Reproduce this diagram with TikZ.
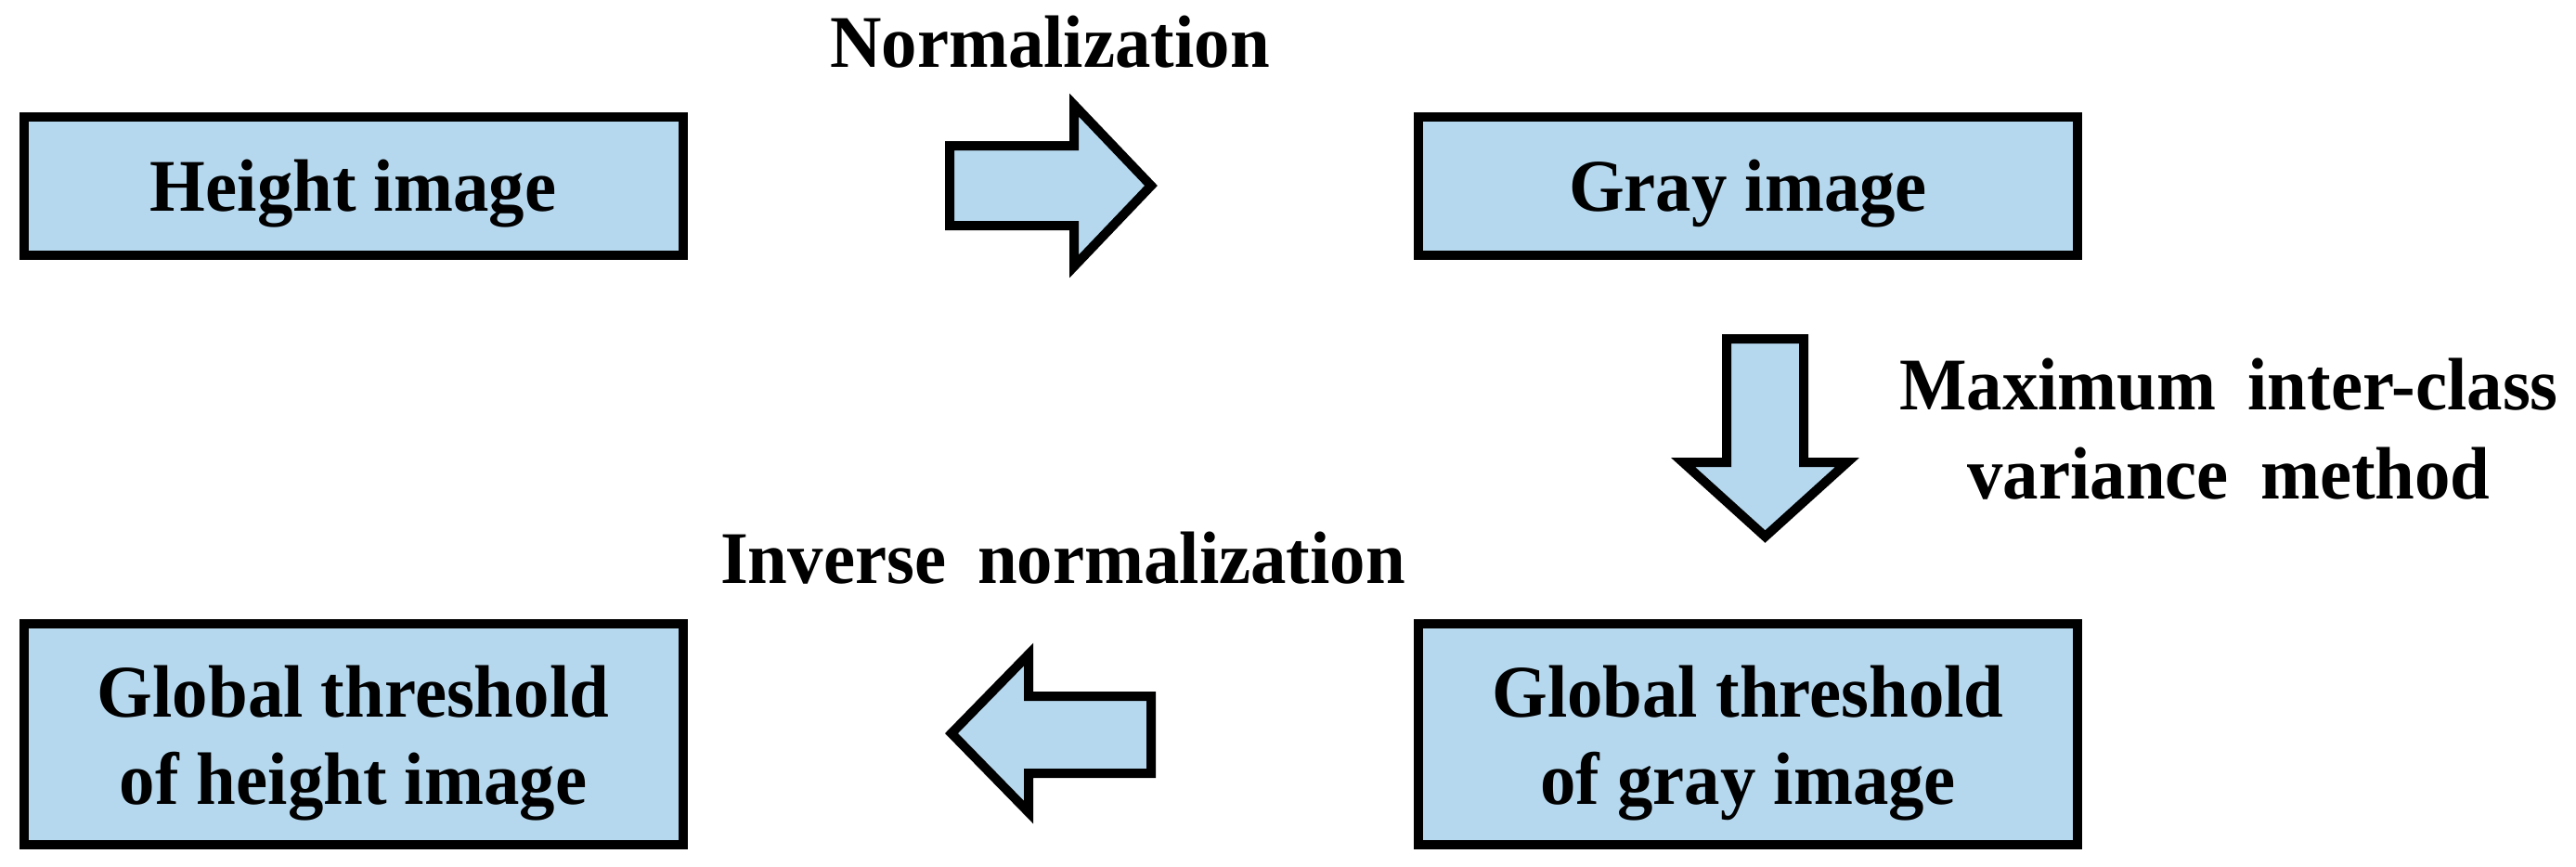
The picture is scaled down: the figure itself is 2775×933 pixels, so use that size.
\documentclass[tikz,border=0pt]{standalone}
\usepackage{fontspec}
\setmainfont{Liberation Serif}[FakeStretch=0.96]
\definecolor{boxblue}{RGB}{181,216,238}
\newcommand\mywidespace{\spaceskip=17pt plus 2pt\relax}
\begin{document}
\begin{tikzpicture}[x=0.5pt,y=-0.5pt,
  box/.style={draw=black, line width=5pt, fill=boxblue, minimum width=355pt,
    inner sep=0pt, font=\fontsize{40}{47}\selectfont\bfseries, align=center},
  onebox/.style={box, minimum height=74.5pt, text height=35pt, text depth=8.5pt},
  twobox/.style={box, minimum height=119pt},
  lbl/.style={font=\fontsize{40}{48}\selectfont\bfseries\mywidespace,
    inner sep=0pt, align=center},
  blockarrow/.style={draw=black, line width=5pt, fill=boxblue, line join=miter}]
\useasboundingbox (0,0) rectangle (2775,933);

\node[onebox] (hi) at (380.5,200.5) {Height image};
\node[onebox] (gi) at (1883,200.5) {Gray image};
\node[twobox] (gth) at (380.5,791) {\rule{0pt}{37.5pt}Global threshold\\of height image};
\node[twobox] (ggt) at (1883,791) {\rule{0pt}{37.5pt}Global threshold\\of gray image};

\node[lbl, anchor=base] (norm) at (1131,72) {Normalization};
\node[lbl, anchor=base] (inv) at (1145,628) {Inverse normalization};
\node[lbl, anchor=north] (otsu) at (2401,386) {Maximum inter-class\\variance method};

% block arrows
\draw[blockarrow] (1023,157) -- (1157,157) -- (1157,113) -- (1240,200) -- (1157,287) -- (1157,243) -- (1023,243) -- cycle;
\draw[blockarrow] (1860,365) -- (1943,365) -- (1943,498) -- (1990,498) -- (1901.5,578) -- (1813,498) -- (1860,498) -- cycle;
\draw[blockarrow] (1240,750) -- (1108,750) -- (1108,705) -- (1025,790) -- (1108,875) -- (1108,833) -- (1240,833) -- cycle;
\end{tikzpicture}
\end{document}
